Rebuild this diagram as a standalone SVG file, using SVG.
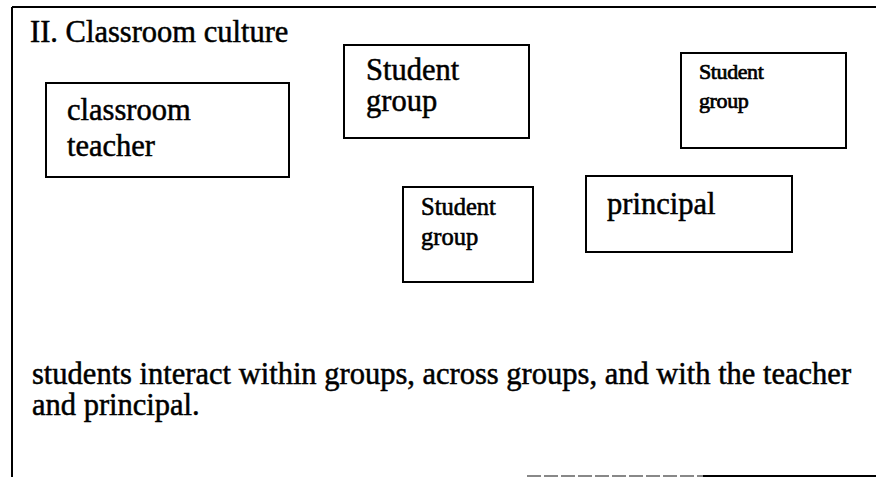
<svg xmlns="http://www.w3.org/2000/svg" width="876" height="477" viewBox="0 0 876 477">
  <style>
    .t { font-family: "Liberation Serif", "Times New Roman", serif; fill: #000; stroke: #000; stroke-width: 0.5; }
    .big { font-size: 30.5px; }
    .mid { font-size: 24.5px; stroke-width: 0.6; }
    .sm { font-size: 22px; letter-spacing: -0.4px; stroke-width: 0.7; }
    .box { fill: #fff; stroke: #000; stroke-width: 2; }
    .frame { stroke: #000; stroke-width: 2; fill: none; }
  </style>
  <rect x="0" y="0" width="876" height="477" fill="#fff"/>
  <g id="frame">
    <line class="frame" x1="12" y1="7" x2="876" y2="7"/>
    <line class="frame" x1="12" y1="7" x2="12" y2="477"/>
    <line x1="527" y1="476" x2="703" y2="476" stroke="#888" stroke-width="2" stroke-dasharray="14 3"/>
    <line x1="703" y1="476" x2="876" y2="476" stroke="#000" stroke-width="2"/>
  </g>
  <g id="title">
    <text class="t big" x="30" y="42" font-size="31">II. Classroom culture</text>
  </g>
  <g id="classroom-teacher">
    <rect class="box" x="46" y="83" width="243" height="94"/>
    <text class="t big" x="67" y="120">classroom</text>
    <text class="t big" x="67" y="156">teacher</text>
  </g>
  <g id="student-group-1">
    <rect class="box" x="344" y="45" width="185" height="93"/>
    <text class="t big" x="366" y="80">Student</text>
    <text class="t big" x="366" y="111">group</text>
  </g>
  <g id="student-group-2">
    <rect class="box" x="681" y="53" width="165" height="95"/>
    <text class="t sm" x="699" y="79">Student</text>
    <text class="t sm" x="699" y="108">group</text>
  </g>
  <g id="student-group-3">
    <rect class="box" x="403" y="187" width="130" height="95"/>
    <text class="t mid" x="421" y="215">Student</text>
    <text class="t mid" x="421" y="245">group</text>
  </g>
  <g id="principal">
    <rect class="box" x="586" y="176" width="206" height="76"/>
    <text class="t big" x="607" y="214">principal</text>
  </g>
  <g id="connectors"></g>
  <g id="caption">
    <text class="t big" x="32" y="384" font-size="31">students interact within groups, across groups, and with the teacher</text>
    <text class="t big" x="32" y="415" font-size="31">and principal.</text>
  </g>
</svg>
